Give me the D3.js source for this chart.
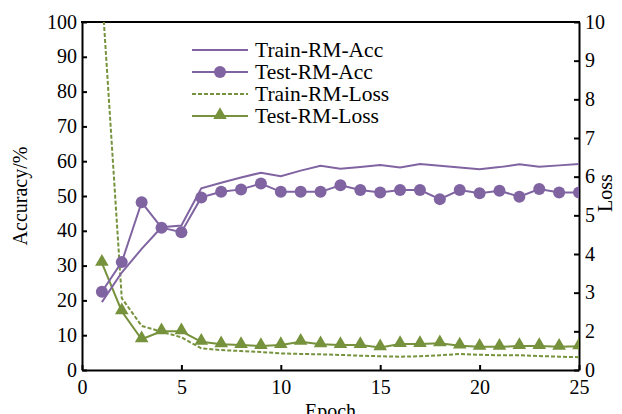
<!DOCTYPE html>
<html>
<head>
<meta charset="utf-8">
<script src="https://cdn.jsdelivr.net/npm/d3@7"></script>
<style>
  body { margin: 0; background: white; }
  text { font-family: "Liberation Serif", "Times New Roman", serif; }
</style>
</head>
<body>
<script>
// data
let epochs = d3.range(1, 26)
let trainAcc = [19.5, 28, 34.8, 41, 41.5, 52.2, 53.8, 55.3, 56.7, 55.7, 57.3, 58.7, 57.8, 58.3, 58.9, 58.2, 59.2, 58.7, 58.2, 57.7, 58.3, 59.1, 58.4, 58.8, 59.2]
let testAcc = [22.5, 31, 48.2, 40.9, 39.6, 49.6, 51.2, 51.9, 53.6, 51.2, 51.2, 51.2, 53.1, 51.7, 51.0, 51.7, 51.7, 49.1, 51.7, 50.8, 51.5, 49.8, 52.0, 51.0, 51.0]
let trainLoss = [10.8, 2.86, 2.14, 1.98, 1.69, 1.12, 1.03, 0.98, 0.93, 0.86, 0.83, 0.81, 0.78, 0.74, 0.71, 0.69, 0.71, 0.76, 0.83, 0.79, 0.76, 0.76, 0.72, 0.69, 0.66]
let testLoss = [3.77, 2.52, 1.59, 2.0, 2.0, 1.46, 1.33, 1.29, 1.24, 1.29, 1.46, 1.33, 1.29, 1.29, 1.17, 1.34, 1.34, 1.38, 1.26, 1.2, 1.2, 1.24, 1.24, 1.2, 1.23]

let xTicks = [0, 5, 10, 15, 20, 25]
let accTicks = d3.range(0, 101, 10)
let lossTicks = [0, 2, 3, 4, 5, 6, 7, 8, 9, 10]   // the "1" label is absent in the original

let legendNames = ["Train-RM-Acc", "Test-RM-Acc", "Train-RM-Loss", "Test-RM-Loss"]

let purple = "#8064a2"
let green = "#76923c"

let W = 622, H = 414
let m = {top: 22, right: 43, bottom: 44, left: 82}
let w = W - m.left - m.right
let h = H - m.top - m.bottom

let svg = d3.select("body")
  .append("svg")
    .attr("width", W)
    .attr("height", H)

svg.append("defs")
  .append("clipPath")
    .attr("id", "plotclip")
  .append("rect")
    .attr("width", w)
    .attr("height", h)

let g = svg.append("g")
    .attr("transform", `translate(${m.left},${m.top})`)

let x = d3.scaleLinear().domain([0, 25]).range([0, w])
let yL = d3.scaleLinear().domain([0, 100]).range([h, 0])
// right axis as printed: 0 at the bottom, then 2..10 evenly spaced
let yR = d3.scaleLinear().domain([0, 2, 10]).range([h, h - h / 9, 0])

// axes, ticks pointing inward
let fs = "20px"
let xAxis = g.append("g")
    .attr("transform", `translate(0,${h})`)
    .call(d3.axisBottom(x).tickValues(xTicks).tickSizeInner(-5).tickSizeOuter(0).tickPadding(7))
let lAxis = g.append("g")
    .call(d3.axisLeft(yL).tickValues(accTicks).tickSizeInner(-5).tickSizeOuter(0).tickPadding(5))
let rAxis = g.append("g")
    .attr("transform", `translate(${w},0)`)
    .call(d3.axisRight(yR).tickValues(lossTicks).tickSizeInner(-5).tickSizeOuter(0).tickPadding(6))

g.selectAll(".domain").attr("stroke", "black").attr("stroke-width", 2)
g.selectAll(".tick line").attr("stroke", "black").attr("stroke-width", 2)
g.selectAll(".tick text").attr("font-size", fs).attr("fill", "black")
  .style("font-family", "Liberation Serif")

// nudge labels to sit like the original
xAxis.selectAll(".tick text").attr("dy", "0.85em")
lAxis.selectAll(".tick text").attr("dy", "0.3em")
rAxis.selectAll(".tick text").attr("dy", "0.3em")

// top frame line
g.append("line")
    .attr("x1", -1).attr("x2", w + 1)
    .attr("y1", 0).attr("y2", 0)
    .attr("stroke", "black")
    .attr("stroke-width", 2)

// axis titles
g.append("text")
    .attr("transform", `translate(${-55},${h / 2}) rotate(-90)`)
    .attr("text-anchor", "middle")
    .attr("font-size", fs)
    .text("Accuracy/%")
g.append("text")
    .attr("transform", `translate(${w + 33},${h / 2 - 3}) rotate(-90)`)
    .attr("text-anchor", "middle")
    .attr("font-size", fs)
    .text("Loss")
g.append("text")
    .attr("x", w / 2)
    .attr("y", h + 48)
    .attr("text-anchor", "middle")
    .attr("font-size", fs)
    .text("Epoch")

// lines
let plot = g.append("g").attr("clip-path", "url(#plotclip)")

let lineL = d3.line().x((d, i) => x(epochs[i])).y(d => yL(d))
let lineR = d3.line().x((d, i) => x(epochs[i])).y(d => yR(d))

plot.append("path")
    .attr("d", lineR(trainLoss))
    .attr("fill", "none")
    .attr("stroke", green)
    .attr("stroke-width", 2)
    .attr("stroke-dasharray", "4,2")

plot.append("path")
    .attr("d", lineR(testLoss))
    .attr("fill", "none")
    .attr("stroke", green)
    .attr("stroke-width", 2)

plot.append("path")
    .attr("d", lineL(trainAcc))
    .attr("fill", "none")
    .attr("stroke", purple)
    .attr("stroke-width", 2)

plot.append("path")
    .attr("d", lineL(testAcc))
    .attr("fill", "none")
    .attr("stroke", purple)
    .attr("stroke-width", 2)

let tri = d3.symbol().type(d3.symbolTriangle).size(80)

plot.append("g")
  .selectAll("path")
  .data(testLoss)
  .join("path")
    .attr("d", tri)
    .attr("transform", (d, i) => `translate(${x(epochs[i])},${yR(d) - 1})`)
    .attr("fill", green)

plot.append("g")
  .selectAll("circle")
  .data(testAcc)
  .join("circle")
    .attr("cx", (d, i) => x(epochs[i]))
    .attr("cy", d => yL(d))
    .attr("r", 6)
    .attr("fill", purple)

// legend
let lg = g.append("g")
    .attr("transform", "translate(110,28)")
let styles = [
  {c: purple, dash: null, mark: null},
  {c: purple, dash: null, mark: "circle"},
  {c: green, dash: "4,2", mark: null},
  {c: green, dash: null, mark: "tri"}
]
for (let i = 0; i < legendNames.length; i++) {
    let row = lg.append("g").attr("transform", `translate(0,${i * 22})`)
    row.append("line")
        .attr("x1", 0).attr("x2", 56)
        .attr("stroke", styles[i].c)
        .attr("stroke-width", 2)
        .attr("stroke-dasharray", styles[i].dash)
    if (styles[i].mark == "circle") {
        row.append("circle").attr("cx", 28).attr("r", 6).attr("fill", styles[i].c)
    }
    if (styles[i].mark == "tri") {
        row.append("path").attr("d", tri).attr("transform", "translate(28,-1)").attr("fill", styles[i].c)
    }
    row.append("text")
        .attr("x", 63)
        .attr("dy", "0.33em")
        .attr("font-size", "21.5px")
        .text(legendNames[i])
}
</script>
</body>
</html>
